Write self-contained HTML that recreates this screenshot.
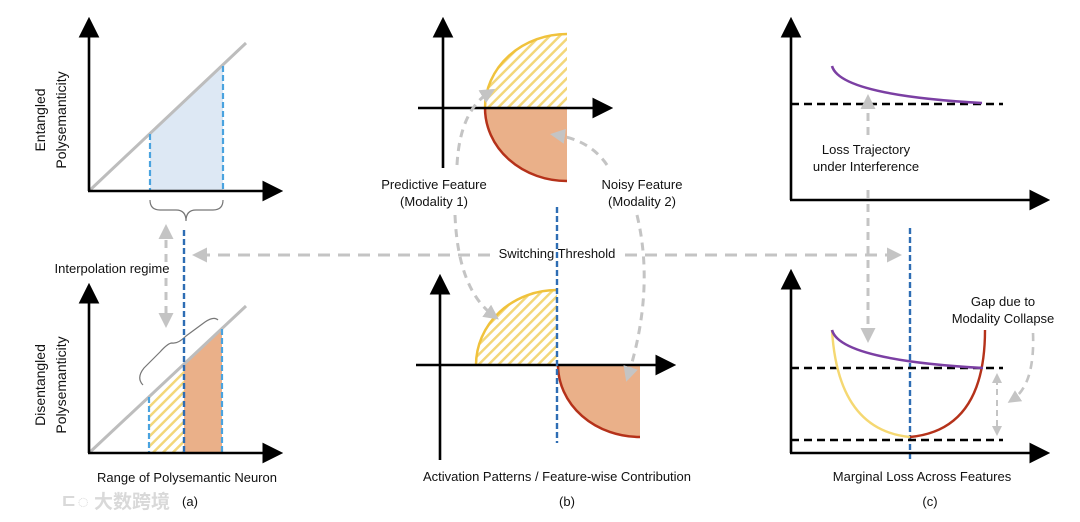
<!DOCTYPE html>
<html><head><meta charset="utf-8"><style>
html,body{margin:0;padding:0;background:#fff;}
svg{display:block;}
text{font-family:"Liberation Sans","Noto Sans CJK SC",sans-serif;font-size:13px;fill:#111;}
.yl{font-size:14px;}
</style></head><body>
<svg width="1080" height="522" viewBox="0 0 1080 522" xmlns="http://www.w3.org/2000/svg">
<defs>
<marker id="ak" markerWidth="8" markerHeight="8" refX="6" refY="4" orient="auto" markerUnits="strokeWidth"><path d="M0,0 L8,4 L0,8 z" fill="#000"/></marker>
<marker id="ag" markerWidth="5" markerHeight="5" refX="3" refY="2.5" orient="auto" markerUnits="strokeWidth"><path d="M0,0 L5,2.5 L0,5 z" fill="#c4c4c4"/></marker>
<pattern id="hatch" width="7" height="7" patternUnits="userSpaceOnUse" patternTransform="rotate(45)"><rect width="7" height="7" fill="#fff"/><rect width="2.5" height="7" fill="#f3d77a"/></pattern>
</defs>

<!-- PANEL A top -->
<polygon points="150,134 223,66 223,191 150,191" fill="#dde8f4"/>
<line x1="89" y1="191" x2="246" y2="43" stroke="#bdbdbd" stroke-width="3"/>
<line x1="150" y1="134" x2="150" y2="191" stroke="#4aa3df" stroke-width="2.2" stroke-dasharray="6,3"/>
<line x1="223" y1="66" x2="223" y2="191" stroke="#4aa3df" stroke-width="2.2" stroke-dasharray="6,3"/>
<line x1="89" y1="191" x2="89" y2="22" stroke="#000" stroke-width="2.6" marker-end="url(#ak)"/>
<line x1="88" y1="191" x2="278" y2="191" stroke="#000" stroke-width="2.6" marker-end="url(#ak)"/>
<path d="M150,200 Q150,210 160,210 L176,210 Q186,210 186,221 Q186,210 196,210 L213,210 Q223,210 223,200" fill="none" stroke="#777" stroke-width="1.2"/>
<text class="yl" transform="translate(45,120) rotate(-90)" text-anchor="middle">Entangled</text>
<text class="yl" transform="translate(66,120) rotate(-90)" text-anchor="middle">Polysemanticity</text>

<!-- PANEL A bottom -->
<polygon points="149,397 184,364 184,453 149,453" fill="url(#hatch)"/>
<polygon points="184,364 222,329 222,453 184,453" fill="#eab089"/>
<line x1="89" y1="453" x2="246" y2="306" stroke="#bdbdbd" stroke-width="3"/>
<line x1="149" y1="397" x2="149" y2="453" stroke="#4aa3df" stroke-width="2.2" stroke-dasharray="6,3"/>
<line x1="222" y1="329" x2="222" y2="453" stroke="#4aa3df" stroke-width="2.2" stroke-dasharray="6,3"/>
<line x1="89" y1="453" x2="89" y2="288" stroke="#000" stroke-width="2.6" marker-end="url(#ak)"/>
<line x1="88" y1="453" x2="278" y2="453" stroke="#000" stroke-width="2.6" marker-end="url(#ak)"/>
<path d="M143,385 Q136,378 144,368 L160,352 Q168,343 172,343 Q178,344 186,336 L205,322 Q214,316 218,320" fill="none" stroke="#777" stroke-width="1.2"/>
<text class="yl" transform="translate(45,385) rotate(-90)" text-anchor="middle">Disentangled</text>
<text class="yl" transform="translate(66,385) rotate(-90)" text-anchor="middle">Polysemanticity</text>
<line x1="184" y1="230" x2="184" y2="455" stroke="#2e6db4" stroke-width="2.4" stroke-dasharray="6,3"/>
<line x1="166" y1="262" x2="166" y2="230" stroke="#c4c4c4" stroke-width="3" stroke-dasharray="8,6" marker-end="url(#ag)"/>
<line x1="166" y1="278" x2="166" y2="322" stroke="#c4c4c4" stroke-width="3" stroke-dasharray="8,6" marker-end="url(#ag)"/>
<text x="112" y="273" text-anchor="middle">Interpolation regime</text>
<text x="187" y="482" text-anchor="middle">Range of Polysemantic Neuron</text>
<text x="190" y="506" text-anchor="middle">(a)</text>
<text x="60" y="508" style="font-size:19px;fill:#d9d9d9;font-weight:bold">ㄷ◌ 大数跨境</text>

<!-- horizontal threshold -->
<line x1="625" y1="255" x2="896" y2="255" stroke="#c4c4c4" stroke-width="3" stroke-dasharray="12,8" marker-end="url(#ag)"/>
<line x1="490" y1="255" x2="198" y2="255" stroke="#c4c4c4" stroke-width="3" stroke-dasharray="12,8" marker-end="url(#ag)"/>
<text x="557" y="258" text-anchor="middle">Switching Threshold</text>

<!-- PANEL B top -->
<path d="M485,108 A82,74 0 0 1 567,34 L567,108 Z" fill="url(#hatch)"/>
<path d="M485,108 A82,74 0 0 1 567,34" fill="none" stroke="#f0c23c" stroke-width="2.5"/>
<path d="M485,108 A82,73 0 0 0 567,181 L567,108 Z" fill="#eab089"/>
<path d="M485,108 A82,73 0 0 0 567,181" fill="none" stroke="#b5321a" stroke-width="2.5"/>
<line x1="443" y1="168" x2="443" y2="22" stroke="#000" stroke-width="2.6" marker-end="url(#ak)"/>
<line x1="418" y1="108" x2="608" y2="108" stroke="#000" stroke-width="2.6" marker-end="url(#ak)"/>
<!-- PANEL B bottom -->
<path d="M476,365 A81,75 0 0 1 557,290 L557,365 Z" fill="url(#hatch)"/>
<path d="M476,365 A81,75 0 0 1 557,290" fill="none" stroke="#f0c23c" stroke-width="2.5"/>
<path d="M558,365 A82,72 0 0 0 640,437 L640,365 Z" fill="#eab089"/>
<path d="M558,365 A82,72 0 0 0 640,437" fill="none" stroke="#b5321a" stroke-width="2.5"/>
<line x1="440" y1="460" x2="440" y2="279" stroke="#000" stroke-width="2.6" marker-end="url(#ak)"/>
<line x1="416" y1="365" x2="671" y2="365" stroke="#000" stroke-width="2.6" marker-end="url(#ak)"/>
<line x1="557" y1="207" x2="557" y2="443" stroke="#2e6db4" stroke-width="2.4" stroke-dasharray="6,3"/>
<!-- curved gray arrows -->
<path d="M457,165 Q460,110 490,92" fill="none" stroke="#c4c4c4" stroke-width="3" stroke-dasharray="8,6" marker-end="url(#ag)"/>
<path d="M455,215 Q458,290 494,316" fill="none" stroke="#c4c4c4" stroke-width="3" stroke-dasharray="8,6" marker-end="url(#ag)"/>
<path d="M607,165 Q590,140 556,135" fill="none" stroke="#c4c4c4" stroke-width="3" stroke-dasharray="8,6" marker-end="url(#ag)"/>
<path d="M637,215 Q655,290 628,376" fill="none" stroke="#c4c4c4" stroke-width="3" stroke-dasharray="8,6" marker-end="url(#ag)"/>
<text x="434" y="189" text-anchor="middle">Predictive Feature</text>
<text x="434" y="206" text-anchor="middle">(Modality 1)</text>
<text x="642" y="189" text-anchor="middle">Noisy Feature</text>
<text x="642" y="206" text-anchor="middle">(Modality 2)</text>
<text x="557" y="481" text-anchor="middle">Activation Patterns / Feature-wise Contribution</text>
<text x="567" y="506" text-anchor="middle">(b)</text>

<!-- PANEL C top -->
<line x1="791" y1="104" x2="1003" y2="104" stroke="#000" stroke-width="2.4" stroke-dasharray="8,5"/>
<path d="M832,66 Q840,95 982,103" fill="none" stroke="#7b3fa3" stroke-width="2.6"/>
<line x1="791" y1="200" x2="791" y2="22" stroke="#000" stroke-width="2.6" marker-end="url(#ak)"/>
<line x1="790" y1="200" x2="1045" y2="200" stroke="#000" stroke-width="2.6" marker-end="url(#ak)"/>
<line x1="868" y1="135" x2="868" y2="100" stroke="#c4c4c4" stroke-width="3" stroke-dasharray="8,6" marker-end="url(#ag)"/>
<line x1="868" y1="190" x2="868" y2="337" stroke="#c4c4c4" stroke-width="3" stroke-dasharray="8,6" marker-end="url(#ag)"/>
<text x="866" y="154" text-anchor="middle">Loss Trajectory</text>
<text x="866" y="171" text-anchor="middle">under Interference</text>
<!-- PANEL C bottom -->
<line x1="910" y1="228" x2="910" y2="462" stroke="#2e6db4" stroke-width="2.4" stroke-dasharray="6,3"/>
<line x1="791" y1="368" x2="1003" y2="368" stroke="#000" stroke-width="2.4" stroke-dasharray="8,5"/>
<line x1="791" y1="440" x2="1003" y2="440" stroke="#000" stroke-width="2.4" stroke-dasharray="8,5"/>
<path d="M832,330 Q838,430 910,437" fill="none" stroke="#f5d872" stroke-width="2.4"/>
<path d="M910,437 Q985,430 985,330" fill="none" stroke="#b5321a" stroke-width="2.4"/>
<path d="M832,330 Q840,360 983,368" fill="none" stroke="#7b3fa3" stroke-width="2.6"/>
<line x1="791" y1="453" x2="791" y2="274" stroke="#000" stroke-width="2.6" marker-end="url(#ak)"/>
<line x1="790" y1="453" x2="1045" y2="453" stroke="#000" stroke-width="2.6" marker-end="url(#ak)"/>
<line x1="997" y1="395" x2="997" y2="377" stroke="#c4c4c4" stroke-width="2" stroke-dasharray="6,4" marker-end="url(#ag)"/>
<line x1="997" y1="400" x2="997" y2="432" stroke="#c4c4c4" stroke-width="2" stroke-dasharray="6,4" marker-end="url(#ag)"/>
<path d="M1033,333 Q1035,385 1012,400" fill="none" stroke="#c4c4c4" stroke-width="2.6" stroke-dasharray="8,6" marker-end="url(#ag)"/>
<text x="1003" y="306" text-anchor="middle">Gap due to</text>
<text x="1003" y="323" text-anchor="middle">Modality Collapse</text>
<text x="922" y="481" text-anchor="middle">Marginal Loss Across Features</text>
<text x="930" y="506" text-anchor="middle">(c)</text>
</svg>
</body></html>
